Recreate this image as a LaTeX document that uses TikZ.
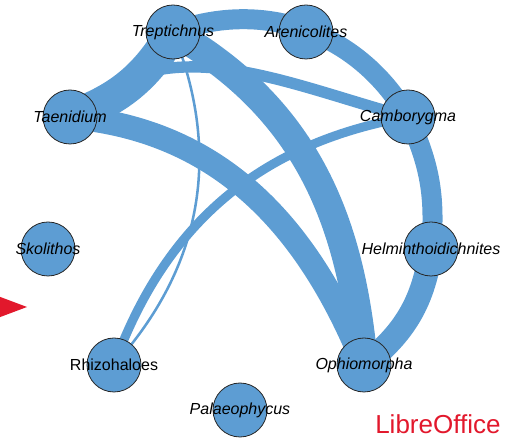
\documentclass[tikz,border=0pt]{standalone}
\usepackage{fontspec}
\setmainfont{Liberation Sans}
\usetikzlibrary{backgrounds}
\definecolor{netblue}{RGB}{93,157,211}
\definecolor{logored}{RGB}{226,24,44}

\begin{document}
\begin{tikzpicture}[x=0.75pt,y=0.75pt,
  taxon/.style={circle,draw=black!85,line width=0.6pt,fill=netblue,minimum size=40.5pt,inner sep=0pt},
  link/.style={draw=netblue,line cap=butt},
  every label/.style={font=\fontsize{12}{14}\selectfont\itshape,inner sep=0pt}]
\useasboundingbox (0,0) rectangle (523,441);
\clip (0,0) rectangle (523,441);

% taxa on the ring
\node [taxon,label=center:Treptichnus] (trep) at (173,409) {};
\node [taxon,label=center:Arenicolites] (aren) at (306,409) {};
\node [taxon,label=center:Taenidium] (taen) at (70,324) {};
\node [taxon,label=center:Camborygma] (camb) at (408,324) {};
\node [taxon,label=center:Skolithos] (skol) at (48,192) {};
\node [taxon,label=center:Helminthoidichnites] (helm) at (431,192) {};
\node [taxon,label={[font=\fontsize{12}{14}\selectfont\upshape]center:Rhizohaloes}] (rhiz) at (114,76) {};
\node [taxon,label=center:Ophiomorpha] (ophi) at (364,76) {};
\node [taxon,label=center:Palaeophycus] (pala) at (240,31) {};

% links, width = weight
\begin{scope}[on background layer]
\draw [link,line width=25pt] (taen.center) to[bend right=20] (trep.center);
\draw [link,line width=8.5pt] (taen.center) to[out=45,in=165] (camb.center);
\draw [link,line width=18pt] (taen.center) to[out=-5,in=112] (ophi.center);
\draw [link,line width=21pt] (trep.center) to[out=-30,in=95] (ophi.center);
\draw [link,line width=15pt] (trep.center) to[bend left=40] (camb.center);
\draw [link,line width=15pt] (camb.center) to[bend left=15] (helm.center);
\draw [link,line width=18pt] (helm.center) to[bend left=22] (ophi.center);
\draw [link,line width=6.75pt] (rhiz.center) to[out=70,in=190] (camb.center);
\draw [link,line width=1.9pt] (rhiz.center) to[bend right=32] (trep.center);
\end{scope}

% pointer at the left edge
\fill [logored] (-5,146) -- (27,134) -- (-5,122) -- cycle;

% Text Node
\node [anchor=north west,inner sep=0pt,text=logored,font=\fontsize{19.5}{22}\selectfont] (logo) at (375,27) {LibreOffice};

\end{tikzpicture}
\end{document}
